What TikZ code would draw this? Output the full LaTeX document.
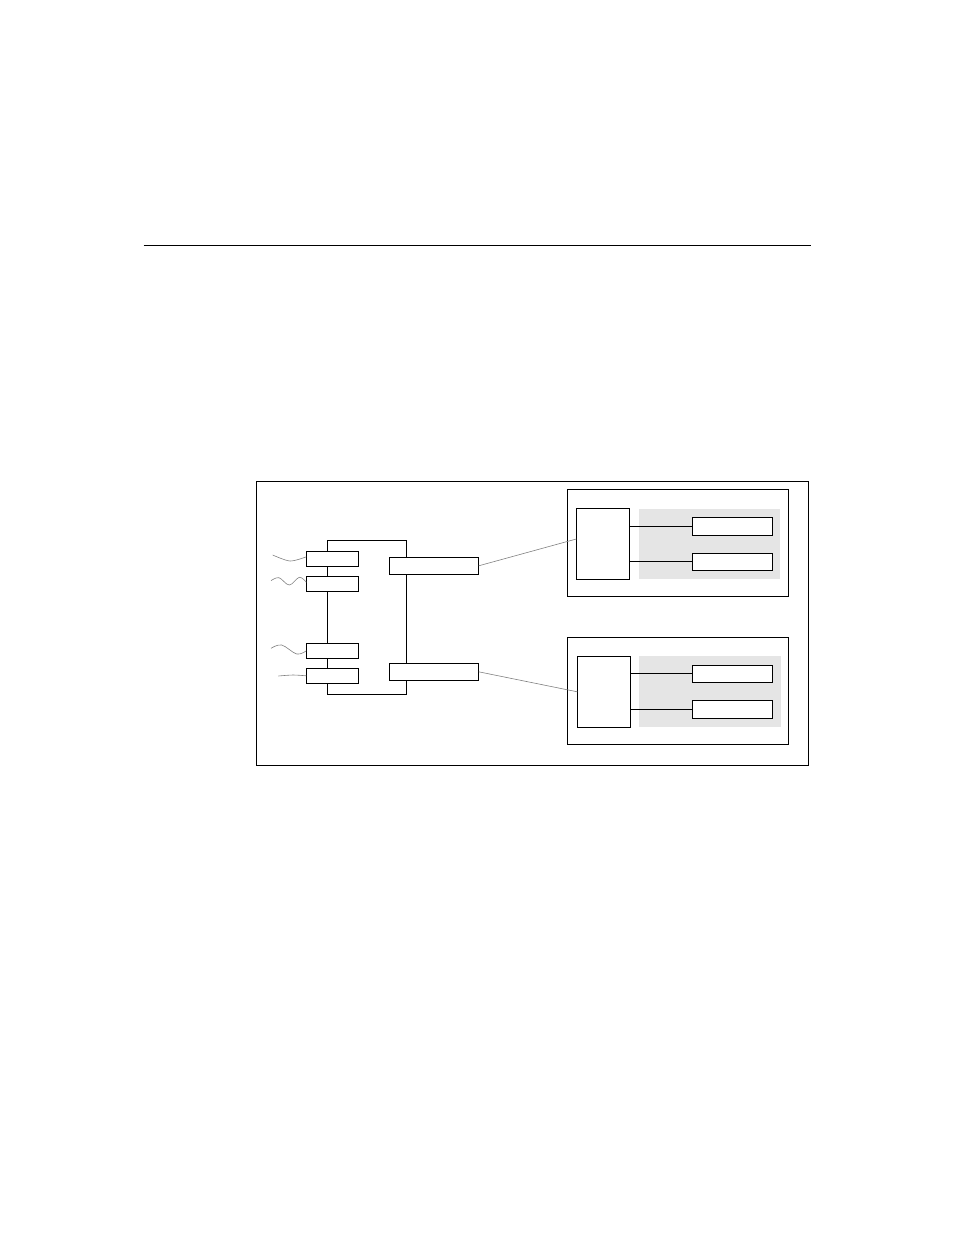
\documentclass[tikz,border=0pt]{standalone}
\usepackage{tikz}
\usetikzlibrary{positioning,calc}
\definecolor{shade}{rgb}{0.90,0.90,0.90}
\definecolor{wire}{rgb}{0.50,0.50,0.50}

\begin{document}
\begin{tikzpicture}[x=1pt,y=-1pt,line width=0.9pt,
  every node/.style={rectangle,draw,fill=white,inner sep=0pt,outer sep=0pt},
  port/.style={minimum width=52pt,minimum height=15pt},
  slot/.style={minimum width=89.4pt,minimum height=17pt},
  card/.style={minimum width=221.4pt,minimum height=107pt},
  bay/.style={draw=none,fill=shade,minimum width=141.5pt,minimum height=70.5pt},
  ctl/.style={minimum width=53pt,minimum height=71pt},
  mem/.style={minimum width=80pt,minimum height=17.5pt},
  link/.style={draw=wire,line width=0.6pt},
  cable/.style={draw=wire,line width=0.6pt}]
\useasboundingbox (0,0) rectangle (954,1235);

% rule above the figure
\coordinate (r1) at (143.7,245.7);
\coordinate (r2) at (810.7,245.7);
\draw[line width=1.1pt] (r1) -- (r2);

% frame and bus
\node[fill=none,minimum width=552pt,minimum height=284pt] (frame) at (532,623) {};
\node[fill=none,minimum width=79pt,minimum height=153.7pt] (bus) at (366.8,617.2) {};

% ports on the left side
\node[port] (in1) at (332.3,558.8) {};
\node[port] (in2) at (332.3,583.7) {};
\node[port] (in3) at (332.3,650.8) {};
\node[port] (in4) at (332.3,675.8) {};

% slots on the right side
\node[slot] (out1) at (434,565.8) {};
\node[slot] (out2) at (434,671.8) {};

% upper card
\node[card,minimum height=106.7pt] (card1) at (678,542.7) {};
\node[bay] (bay1) at (709.5,544) {};
\node[ctl] (ctl1) at (602.8,543.8) {};
\node[mem] (mem1a) at (732.3,526.2) {};
\node[mem] (mem1b) at (732.3,561.7) {};
\draw (ctl1.east |- mem1a.west) -- (mem1a.west);
\draw (ctl1.east |- mem1b.west) -- (mem1b.west);

% lower card
\node[card] (card2) at (678,690.8) {};
\node[bay,minimum height=71pt] (bay2) at (710,691.5) {};
\node[ctl] (ctl2) at (603.8,691.8) {};
\node[mem] (mem2a) at (732.3,673.7) {};
\node[mem,minimum height=18pt] (mem2b) at (732.3,709.3) {};
\draw (ctl2.east |- mem2a.west) -- (mem2a.west);
\draw (ctl2.east |- mem2b.west) -- (mem2b.west);

% links from slots to cards
\draw[link] (out1.east) -- ($(ctl1.west)+(0,-4.8)$);
\draw[link] (out2.east) -- (ctl2.west);

% loose cables into the ports
\coordinate (c1) at (272.7,555);
\coordinate (c2) at (271,580.7);
\coordinate (c3) at (271,648.3);
\coordinate (c4) at (278.3,676);
\draw[cable] plot[smooth] coordinates {(c1) (290,561) ($(in1.west)+(0,-2)$)};
\draw[cable] plot[smooth,tension=0.6] coordinates {(c2) (279,577.7) (289.3,585) (299.3,577.3) ($(in2.west)+(0,-1.5)$)};
\draw[cable] plot[smooth,tension=0.6] coordinates {(c3) (281.7,645) (296.7,654) (in3.west)};
\draw[cable] plot[smooth,tension=0.5] coordinates {(c4) (293,675) (in4.west)};
\end{tikzpicture}
\end{document}
